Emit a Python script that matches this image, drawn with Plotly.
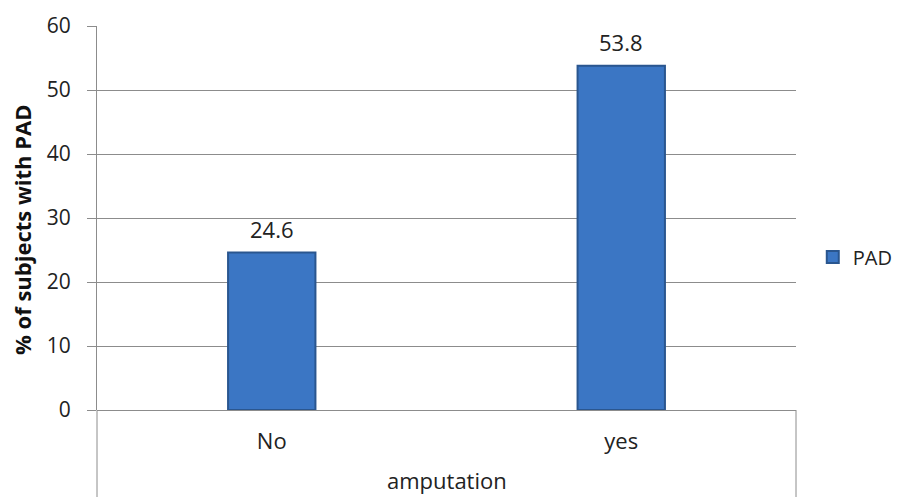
import plotly.graph_objects as go

categories = ["No", "yes"]
pad_pct = [24.6, 53.8]
y_ticks = [0, 10, 20, 30, 40, 50, 60]

W, H = 905, 497
L, R, T, B = 97, 109, 26, 87
plot_h = H - T - B
grid = "#8c8c8c"
font_main = "Open Sans, Liberation Sans, Arial, sans-serif"

fig = go.Figure()
fig.add_trace(go.Bar(
    x=categories,
    y=pad_pct,
    name="PAD",
    marker=dict(color="#3b76c4", line=dict(color="#2a568f", width=2)),
    width=0.25,
))

# value labels above each bar
for c, v in zip(categories, pad_pct):
    fig.add_annotation(x=c, y=v, text=f"{v:.1f}", showarrow=False,
                       yanchor="bottom", yshift=7,
                       font=dict(family=font_main, size=22, color="#222"))

# axis titles
fig.add_annotation(text="amputation", xref="paper", yref="paper",
                   x=0.5, y=(410 - 480) / plot_h, yanchor="middle",
                   showarrow=False, font=dict(family=font_main, size=22, color="#222"))
fig.add_annotation(text="<b>% of subjects with PAD</b>", xref="paper", yref="paper",
                   x=(22 - L) / (W - L - R), y=(H - B - 230) / plot_h,
                   xanchor="center", yanchor="middle", textangle=-90,
                   showarrow=False, font=dict(family=font_main, size=22, color="#111"))

# category box below the value axis
for xd in (0, 1):
    fig.add_shape(type="line", xref="x domain", yref="paper",
                  x0=xd, x1=xd, y0=0, y1=-(B + 5) / plot_h,
                  line=dict(color=grid, width=1))

fig.update_layout(
    width=W, height=H,
    margin=dict(l=L, r=R, t=T, b=B, autoexpand=False),
    paper_bgcolor="white", plot_bgcolor="white",
    showlegend=True,
    legend=dict(x=0.024, xref="paper", y=(H - B - 257) / plot_h,
                xanchor="left", yanchor="middle",
                font=dict(family=font_main, size=20, color="#222"),
                bgcolor="rgba(0,0,0,0)"),
    xaxis=dict(showgrid=False, showline=False, zeroline=False, ticks="",
               tickfont=dict(family=font_main, size=22, color="#222"),
               ticklabelstandoff=16),
    yaxis=dict(range=[0, 60], tickvals=y_ticks, showgrid=True, gridcolor=grid,
               gridwidth=1, showline=True, linecolor=grid, linewidth=1,
               zeroline=True, zerolinecolor=grid, zerolinewidth=1,
               ticks="outside", ticklen=9, tickcolor=grid,
               tickfont=dict(family=font_main, size=21, color="#222"),
               ticklabelstandoff=12),
)
# legend sits just right of the plot area
fig.layout.legend.x = 1.024

fig.write_html("out.html")
